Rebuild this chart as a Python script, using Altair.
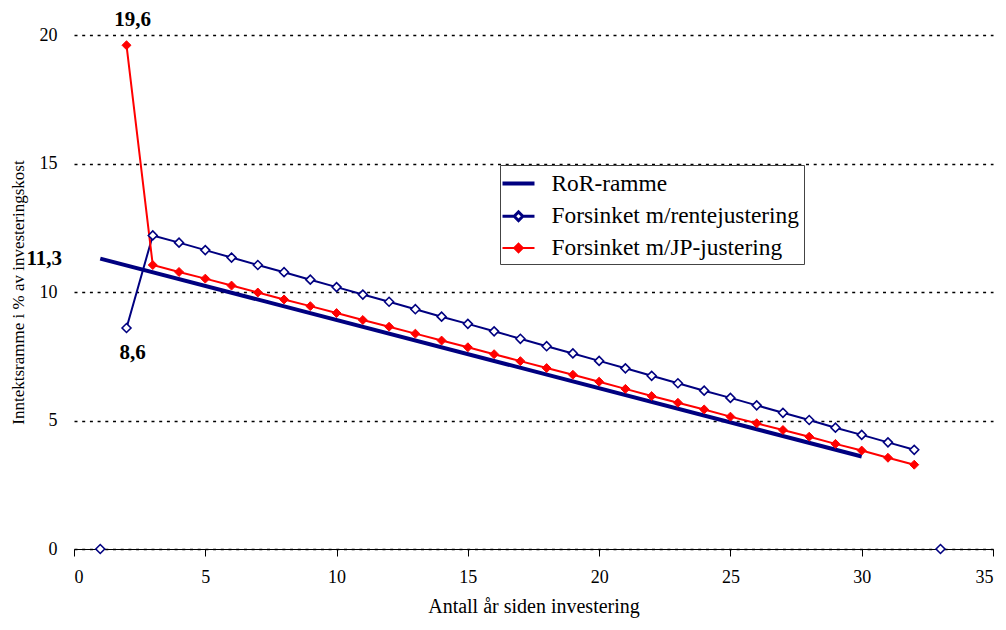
import altair as alt
import pandas as pd

# ---- data ----
ror_x = [1, 30]
ror_y = [11.3, 3.6]

rente_x = list(range(1, 34))
rente_y = [0.0, 8.6, 12.2, 11.92, 11.63, 11.34, 11.05, 10.77, 10.48, 10.19,
           9.90, 9.62, 9.33, 9.04, 8.76, 8.47, 8.18, 7.89, 7.61, 7.32,
           7.03, 6.74, 6.45, 6.16, 5.88, 5.59, 5.30, 5.02, 4.72, 4.44,
           4.15, 3.86, 0.0]

jp_x = list(range(2, 33))
jp_y = [19.6, 11.05, 10.78, 10.52, 10.25, 9.98, 9.71, 9.45, 9.18, 8.91,
        8.65, 8.38, 8.11, 7.85, 7.58, 7.31, 7.04, 6.78, 6.51, 6.23,
        5.95, 5.69, 5.43, 5.15, 4.89, 4.63, 4.37, 4.09, 3.83, 3.55, 3.28]

series_names = ["RoR-ramme", "Forsinket m/rentejustering", "Forsinket m/JP-justering"]
x_ticks = [0, 5, 10, 15, 20, 25, 30, 35]
y_ticks = [0, 5, 10, 15, 20]

NAVY = "#000080"
RED = "#FF0000"
FONT = "'Liberation Serif', 'Times New Roman', serif"

ror = pd.DataFrame({"x": ror_x, "y": ror_y, "series": series_names[0]})
rente = pd.DataFrame({"x": rente_x, "y": rente_y, "series": series_names[1]})
jp = pd.DataFrame({"x": jp_x, "y": jp_y, "series": series_names[2]})
allser = pd.concat([ror, rente, jp], ignore_index=True)

def fmt(v):
    return f"{v:.1f}".replace(".", ",")

xenc = alt.X("x:Q", scale=alt.Scale(domain=[0, 35], nice=False),
             axis=alt.Axis(values=x_ticks, title="Antall år siden investering",
                           grid=False, domainColor="black", tickColor="black",
                           tickSize=7, labelPadding=12, titlePadding=10,
                           titleFontSize=20))
yenc = alt.Y("y:Q", scale=alt.Scale(domain=[0, 20], nice=False),
             axis=alt.Axis(values=y_ticks, title="Inntektsramme i % av investeringskost",
                           grid=True, gridColor="black", gridDash=[3, 4.7], gridWidth=1.5,
                           domain=False, ticks=False, labelPadding=17, titlePadding=12,
                           titleFontSize=17))

ror_line = alt.Chart(ror).mark_line(color=NAVY, strokeWidth=4).encode(x=xenc, y=yenc)

rente_line = alt.Chart(rente).transform_filter(
    (alt.datum.x >= 2) & (alt.datum.x <= 32)
).mark_line(color=NAVY, strokeWidth=2).encode(x="x:Q", y="y:Q")
rente_pts = alt.Chart(rente).mark_point(shape="diamond", filled=True, fill="white",
                                        stroke=NAVY, strokeWidth=1.6, size=80, opacity=1
                                        ).encode(x="x:Q", y="y:Q")

jp_line = alt.Chart(jp).mark_line(color=RED, strokeWidth=2).encode(x="x:Q", y="y:Q")
jp_pts = alt.Chart(jp).mark_point(shape="diamond", filled=True, fill=RED, stroke=RED,
                                  strokeWidth=1, size=80, opacity=1).encode(x="x:Q", y="y:Q")

# legend-only layer (invisible marks, legend symbols drawn from scales)
line_path = "M-1.333,0H1.333"
dia_path = "M-1.333,0H-0.36M-0.36,0L0,-0.36L0.36,0L0,0.36ZM0.36,0H1.333"
legend_layer = alt.Chart(allser).mark_point(opacity=0).encode(
    x="x:Q", y="y:Q",
    shape=alt.Shape("series:N", scale=alt.Scale(domain=series_names,
                                                range=[line_path, dia_path, dia_path]),
                    title=None),
    stroke=alt.Stroke("series:N", scale=alt.Scale(domain=series_names,
                                                  range=[NAVY, NAVY, RED]), title=None),
    fill=alt.Fill("series:N", scale=alt.Scale(domain=series_names,
                                              range=["transparent", "white", RED]), title=None),
    strokeWidth=alt.StrokeWidth("series:N", scale=alt.Scale(domain=series_names,
                                                            range=[4, 2, 2]), title=None),
)

# annotations derived from the data points
ann_top = pd.DataFrame({"x": [jp_x[0]], "y": [jp_y[0]], "t": [fmt(jp_y[0])]})
ann_left = pd.DataFrame({"x": [ror_x[0]], "y": [ror_y[0]], "t": [fmt(ror_y[0])]})
ann_bot = pd.DataFrame({"x": [rente_x[1]], "y": [rente_y[1]], "t": [fmt(rente_y[1])]})

txt_kw = dict(font=FONT, fontSize=21, fontWeight="bold", color="black")
t1 = alt.Chart(ann_top).mark_text(dx=6, dy=-25, **txt_kw).encode(x="x:Q", y="y:Q", text="t:N")
t2 = alt.Chart(ann_left).mark_text(dx=-56, dy=0, **txt_kw).encode(x="x:Q", y="y:Q", text="t:N")
t3 = alt.Chart(ann_bot).mark_text(dx=6, dy=25, **txt_kw).encode(x="x:Q", y="y:Q", text="t:N")

chart = alt.layer(
    ror_line, rente_line, jp_line, rente_pts, jp_pts, legend_layer, t1, t2, t3
).properties(
    width=919, height=514,
    autosize=alt.AutoSizeParams(type="none"),
    padding={"left": 66, "top": 27, "right": 5, "bottom": 80},
).configure_view(
    stroke=None
).configure_axis(
    labelFont=FONT, titleFont=FONT, labelFontSize=18,
    labelColor="black", titleColor="black", titleFontWeight="normal",
).configure_legend(
    orient="none", legendX=426, legendY=130,
    labelFont=FONT, labelFontSize=23.4, labelColor="black",
    symbolSize=576, symbolOpacity=1, symbolType="circle",
    strokeColor="#444444", padding=4.5, rowPadding=7.2, labelOffset=19,
    fillColor="white", labelLimit=400,
)

chart.save("out.html", embed_options={"renderer": "svg", "actions": False})
